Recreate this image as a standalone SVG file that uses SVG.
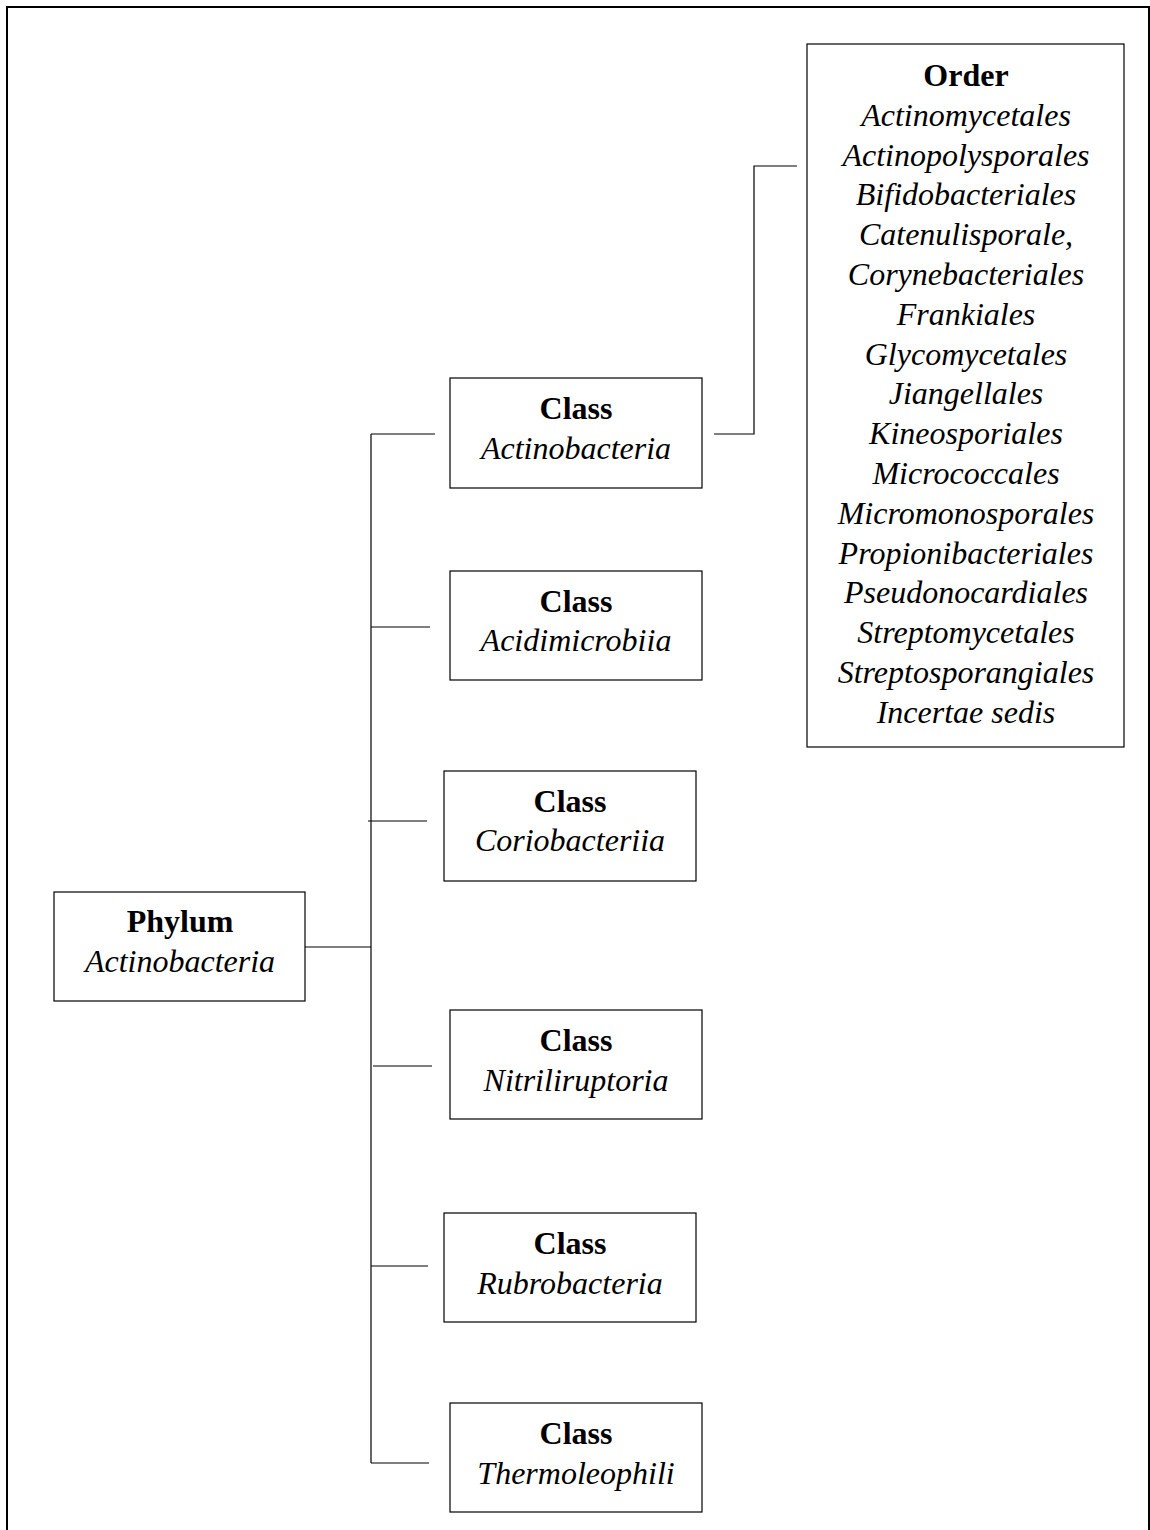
<svg xmlns="http://www.w3.org/2000/svg" width="1150" height="1530" viewBox="0 0 1150 1530">
<style>
.box{fill:#fff;stroke:#000;stroke-width:1.2}
.c{stroke:#000;stroke-width:1.2;fill:none}
.t{font-family:"Liberation Serif","Times New Roman",serif;font-size:32px;text-anchor:middle;fill:#000}
.b{font-weight:bold}
.i{font-style:italic}
</style>
<rect x="0" y="0" width="1150" height="1530" fill="#fff"/>
<path d="M7,1530 V7 H1149 V1530" fill="none" stroke="#000" stroke-width="2"/>
<g id="connectors">
<path class="c" d="M305,947 H371"/>
<path class="c" d="M371,434 V1463"/>
<path class="c" d="M371,434 H435"/>
<path class="c" d="M371,627 H430"/>
<path class="c" d="M368,821 H427"/>
<path class="c" d="M373,1066 H432"/>
<path class="c" d="M371,1266 H428"/>
<path class="c" d="M371,1463 H429"/>
<path class="c" d="M714,434 H754 V166 H797"/>
</g>
<g id="phylum">
<rect class="box" x="54" y="892" width="251" height="109"/>
<text class="t b" x="180" y="932">Phylum</text>
<text class="t i" x="180" y="972">Actinobacteria</text>
</g>
<g id="class-actinobacteria">
<rect class="box" x="450" y="378" width="252" height="110"/>
<text class="t b" x="576" y="419">Class</text>
<text class="t i" x="576" y="459">Actinobacteria</text>
</g>
<g id="class-acidimicrobiia">
<rect class="box" x="450" y="571" width="252" height="109"/>
<text class="t b" x="576" y="612">Class</text>
<text class="t i" x="576" y="651">Acidimicrobiia</text>
</g>
<g id="class-coriobacteriia">
<rect class="box" x="444" y="771" width="252" height="110"/>
<text class="t b" x="570" y="812">Class</text>
<text class="t i" x="570" y="851">Coriobacteriia</text>
</g>
<g id="class-nitriliruptoria">
<rect class="box" x="450" y="1010" width="252" height="109"/>
<text class="t b" x="576" y="1051">Class</text>
<text class="t i" x="576" y="1091">Nitriliruptoria</text>
</g>
<g id="class-rubrobacteria">
<rect class="box" x="444" y="1213" width="252" height="109"/>
<text class="t b" x="570" y="1254">Class</text>
<text class="t i" x="570" y="1294">Rubrobacteria</text>
</g>
<g id="class-thermoleophili">
<rect class="box" x="450" y="1403" width="252" height="109"/>
<text class="t b" x="576" y="1444">Class</text>
<text class="t i" x="576" y="1484">Thermoleophili</text>
</g>
<g id="order">
<rect class="box" x="807" y="44" width="317" height="703"/>
<text class="t b" x="966" y="86">Order</text>
<text class="t i" x="966" y="125.8">Actinomycetales</text>
<text class="t i" x="966" y="165.6">Actinopolysporales</text>
<text class="t i" x="966" y="205.4">Bifidobacteriales</text>
<text class="t i" x="966" y="245.2">Catenulisporale,</text>
<text class="t i" x="966" y="285">Corynebacteriales</text>
<text class="t i" x="966" y="324.8">Frankiales</text>
<text class="t i" x="966" y="364.6">Glycomycetales</text>
<text class="t i" x="966" y="404.4">Jiangellales</text>
<text class="t i" x="966" y="444.2">Kineosporiales</text>
<text class="t i" x="966" y="484">Micrococcales</text>
<text class="t i" x="966" y="523.8">Micromonosporales</text>
<text class="t i" x="966" y="563.6">Propionibacteriales</text>
<text class="t i" x="966" y="603.4">Pseudonocardiales</text>
<text class="t i" x="966" y="643.2">Streptomycetales</text>
<text class="t i" x="966" y="683">Streptosporangiales</text>
<text class="t i" x="966" y="722.8">Incertae sedis</text>
</g>
</svg>
